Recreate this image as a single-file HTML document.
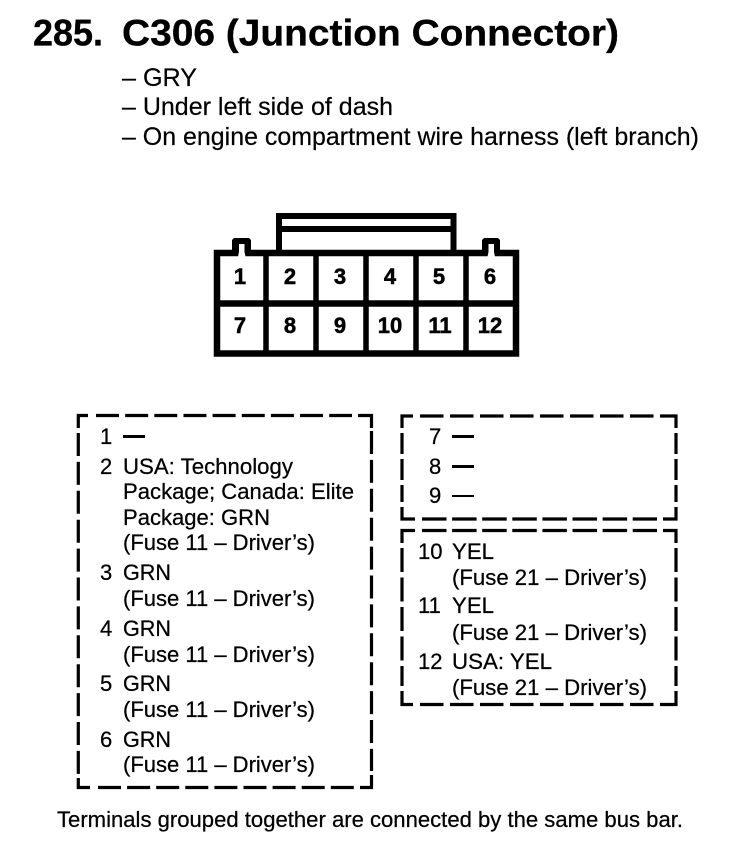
<!DOCTYPE html>
<html><head><meta charset="utf-8"><style>
html,body{margin:0;padding:0;background:#fff;width:752px;height:852px;overflow:hidden}
svg{display:block}
text{font-family:"Liberation Sans",sans-serif;fill:#000;white-space:pre}
.t{font-size:22px;stroke:#000;stroke-width:.25px}
.h{font-size:25px;stroke:#000;stroke-width:.2px}
.n{font-size:22px;font-weight:bold;text-anchor:middle;stroke:#000;stroke-width:.5px}
.c{stroke:#000;stroke-width:3.2;fill:none;stroke-linejoin:miter}
</style></head><body>
<svg width="752" height="852" viewBox="0 0 752 852" xmlns="http://www.w3.org/2000/svg">
<text x="33" y="45.500" font-size="37" font-weight="bold" stroke="#000" stroke-width=".3" textLength="70" lengthAdjust="spacingAndGlyphs">285.</text>
<text x="122" y="45.500" font-size="37" font-weight="bold" stroke="#000" stroke-width=".3" textLength="497" lengthAdjust="spacingAndGlyphs">C306 (Junction Connector)</text>
<text class="h" x="122" y="86" textLength="75" lengthAdjust="spacingAndGlyphs">– GRY</text>
<text class="h" x="122" y="115" textLength="271" lengthAdjust="spacingAndGlyphs">– Under left side of dash</text>
<text class="h" x="122" y="145" textLength="577" lengthAdjust="spacingAndGlyphs">– On engine compartment wire harness (left branch)</text>

<g fill="none" stroke="#000" stroke-linejoin="miter">
<path stroke-width="6" d="M279 253V216H453.500V253M279 229H453.500"/>
<rect stroke-width="6.500" x="217" y="253" width="299" height="100.500"/>
<path stroke-width="5.500" d="M266 253V353M316 253V353M366 253V353M416 253V353M466 253V353"/>
<path stroke-width="6.500" d="M217 303.500H516"/>
</g>
<path d="M232 255V240l2-2h15l2 2V255zM482 255V240l2-2h14l2 2V255z" fill="#000"/>
<path d="M239 244h5.500v8l1 4.500h-7.500l1-4.500zM488.500 244h5.500v8l1 4.500h-7.500l1-4.500z" fill="#fff"/>
<text class="n" x="240" y="284">1</text><text class="n" x="290" y="284">2</text><text class="n" x="340" y="284">3</text><text class="n" x="390" y="284">4</text><text class="n" x="439" y="284">5</text><text class="n" x="490" y="284">6</text>
<text class="n" x="240" y="333">7</text><text class="n" x="290" y="333">8</text><text class="n" x="340" y="333">9</text><text class="n" x="390" y="333">10</text><text class="n" x="440" y="333">11</text><text class="n" x="490" y="333">12</text>

<!-- box 1 -->
<path class="c" d="M78.300 428V415.500H88M358 415.500H371.500V428M78.300 778V787.500H90M360 787.500H371.500V775"/>
<path class="c" stroke-dasharray="23 6.150" d="M96 415.500H352"/>
<path class="c" stroke-dasharray="23 6.100" d="M98 787.500H354"/>
<path class="c" stroke-dasharray="23 5.900" d="M78.300 433V775"/>
<path class="c" stroke-dasharray="23 5.900" d="M371.500 431V771"/>
<!-- box 2 -->
<path class="c" d="M402 428V416H413M660 416H676V428M402 507V519H415M663 519H676V507"/>
<path class="c" stroke-dasharray="23.500 6.500" d="M420 416H654"/>
<path class="c" stroke-dasharray="24.500 5.600" d="M422 519H657"/>
<path class="c" stroke-dasharray="21 5" d="M402 433V502"/>
<path class="c" stroke-dasharray="21 5" d="M676 433V502"/>
<!-- box 3 -->
<path class="c" d="M402 543V530.500H415M663 530.500H676V543M402 691V704.500H413M660 704.500H676V691"/>
<path class="c" stroke-dasharray="24.500 5.600" d="M422 530.500H657"/>
<path class="c" stroke-dasharray="23.500 6.500" d="M420 704.500H654"/>
<path class="c" stroke-dasharray="24 5.500" d="M402 548V686"/>
<path class="c" stroke-dasharray="24 5.500" d="M676 548V686"/>

<text class="t" x="100" y="444">1</text><rect x="123" y="435" width="22" height="3"/>
<text class="t" x="100" y="474">2</text><text class="t" x="123" y="474" textLength="170" lengthAdjust="spacingAndGlyphs">USA: Technology</text>
<text class="t" x="123" y="499" textLength="231" lengthAdjust="spacingAndGlyphs">Package; Canada: Elite</text>
<text class="t" x="123" y="525" textLength="147" lengthAdjust="spacingAndGlyphs">Package: GRN</text>
<text class="t" x="123" y="550" textLength="192" lengthAdjust="spacingAndGlyphs">(Fuse 11 – Driver’s)</text>
<text class="t" x="100" y="580">3</text><text class="t" x="123" y="580" textLength="48" lengthAdjust="spacingAndGlyphs">GRN</text>
<text class="t" x="123" y="606" textLength="192" lengthAdjust="spacingAndGlyphs">(Fuse 11 – Driver’s)</text>
<text class="t" x="100" y="636">4</text><text class="t" x="123" y="636" textLength="48" lengthAdjust="spacingAndGlyphs">GRN</text>
<text class="t" x="123" y="662" textLength="192" lengthAdjust="spacingAndGlyphs">(Fuse 11 – Driver’s)</text>
<text class="t" x="100" y="691">5</text><text class="t" x="123" y="691" textLength="48" lengthAdjust="spacingAndGlyphs">GRN</text>
<text class="t" x="123" y="717" textLength="192" lengthAdjust="spacingAndGlyphs">(Fuse 11 – Driver’s)</text>
<text class="t" x="100" y="747">6</text><text class="t" x="123" y="747" textLength="48" lengthAdjust="spacingAndGlyphs">GRN</text>
<text class="t" x="123" y="772" textLength="192" lengthAdjust="spacingAndGlyphs">(Fuse 11 – Driver’s)</text>

<text class="t" x="429" y="444">7</text><rect x="452" y="435" width="22" height="3"/>
<text class="t" x="429" y="474">8</text><rect x="452" y="465" width="22" height="3"/>
<text class="t" x="429" y="503">9</text><rect x="452" y="495" width="22" height="2"/>
<text class="t" x="418" y="559">10</text><text class="t" x="452" y="559" textLength="42" lengthAdjust="spacingAndGlyphs">YEL</text>
<text class="t" x="452" y="585" textLength="195" lengthAdjust="spacingAndGlyphs">(Fuse 21 – Driver’s)</text>
<text class="t" x="418" y="613">11</text><text class="t" x="452" y="613" textLength="42" lengthAdjust="spacingAndGlyphs">YEL</text>
<text class="t" x="452" y="640" textLength="195" lengthAdjust="spacingAndGlyphs">(Fuse 21 – Driver’s)</text>
<text class="t" x="418" y="669">12</text><text class="t" x="452" y="669" textLength="100" lengthAdjust="spacingAndGlyphs">USA: YEL</text>
<text class="t" x="452" y="695" textLength="195" lengthAdjust="spacingAndGlyphs">(Fuse 21 – Driver’s)</text>
<text class="t" x="57" y="827" textLength="626" lengthAdjust="spacingAndGlyphs">Terminals grouped together are connected by the same bus bar.</text>
</svg>
</body></html>
